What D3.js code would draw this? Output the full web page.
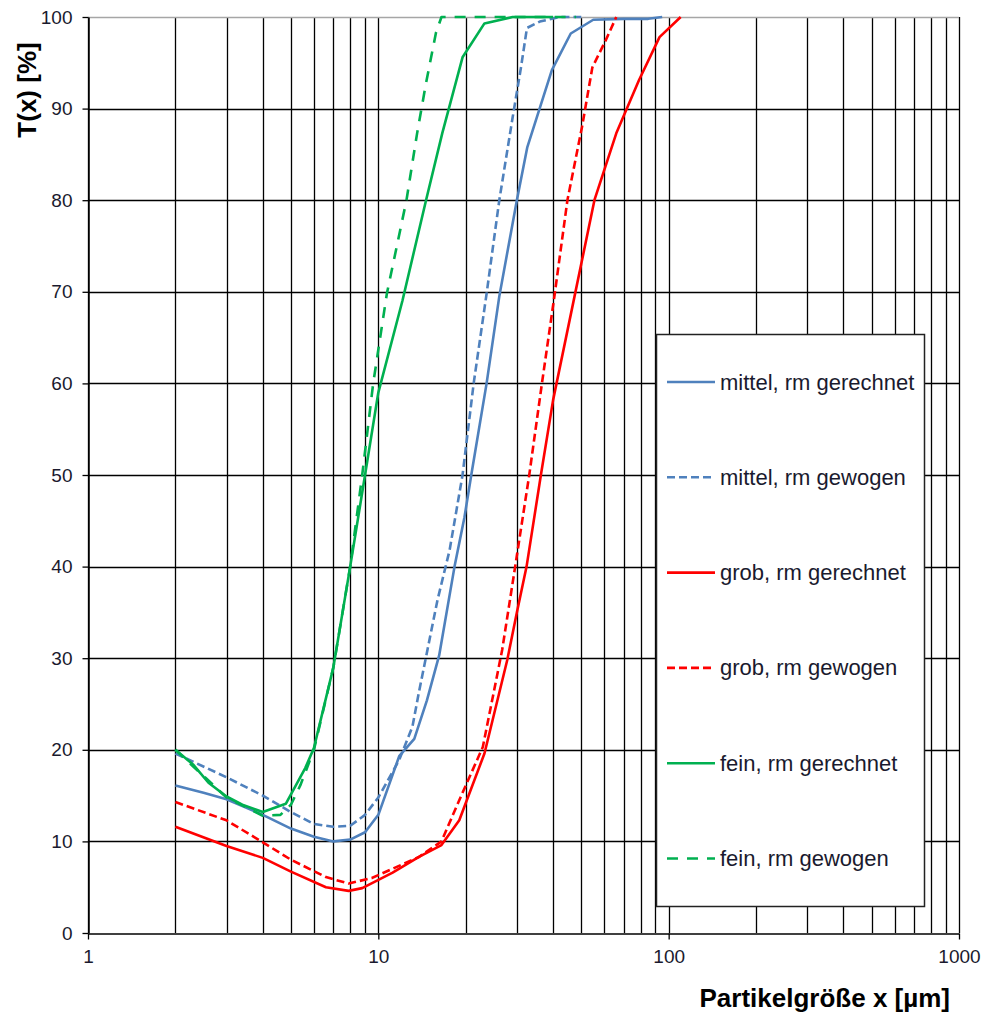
<!DOCTYPE html>
<html>
<head>
<meta charset="utf-8">
<script src="https://cdn.jsdelivr.net/npm/d3@7"></script>
<style>
  body { margin: 0; background: #fff; }
  svg { display: block; font-family: "Liberation Sans", Arial, sans-serif; }
</style>
</head>
<body>
<svg id="chart" width="988" height="1013"></svg>
<script>
// values (x in µm, T in %)
var mittel_gerechnet = [[2,16.1],[2.5,15.3],[3,14.6],[4,12.9],[5,11.4],[6,10.5],[7,10.0],[8,10.2],[9,11.0],[10,12.9],
    [11.8,19.3],[13.3,21.2],[14.7,25.4],[16.2,30.3],[18.3,40],[19.8,45.4],[20.9,50],[23.6,60],[26.1,69.5],[30,80],
    [32.6,85.8],[39.6,94.2],[46,98.2],[55,99.7],[70,99.8],[85,99.8],[95,100]];
var mittel_gewogen = [[2,19.6],[3,17.0],[4,15.0],[5,13.2],[6,11.9],[7,11.6],[8,11.7],[9,12.9],[10,14.8],[11.8,18.9],
    [13.1,22.5],[13.8,26.3],[16,36.4],[17.6,41.8],[19.5,50],[21.3,60],[23.6,69.8],[26.1,80],[29,89],[31,94.5],
    [32.5,98.8],[36,99.5],[42,100],[50,100]];
var grob_gerechnet = [[2,11.6],[3,9.5],[4,8.2],[5,6.7],[6.6,5.0],[7.9,4.6],[8.8,4.9],[11.2,6.6],[13.8,8.3],[16.5,9.6],
    [19,12.3],[23.2,19.6],[27.8,29.8],[30,35],[32.4,40],[36.3,50],[40,58.2],[47.4,69.5],[55.5,80],[66,87.3],
    [79,93.1],[93,97.8],[110,100]];
var grob_gewogen = [[2,14.3],[3,12.3],[4,9.9],[5,8.0],[6.6,6.1],[7.9,5.4],[9.5,6.0],[13.8,8.3],[16.5,10.0],[19,14.5],
    [22.9,20.3],[26.7,30.9],[29.6,40],[33.1,50],[36.6,60],[40.4,69.5],[44.8,80],[50.3,88],[54.6,94.5],[60.8,97.5],[66,100]];
var fein_gerechnet = [[2,20.0],[2.3,18.4],[2.6,16.4],[3,14.9],[3.4,14.0],[4,13.2],[4.8,14.1],[5.6,18.0],[6,20.2],
    [7,29],[8,40],[9,50],[10,59],[12.1,69],[14.6,80],[16.6,87.3],[19.5,95.6],[23.2,99.3],[29,100],[40,100]];
var fein_gewogen = [[2,20.0],[3,14.8],[4,12.8],[4.6,12.9],[5,14.0],[5.4,16.2],[6,20.0],[7,29],[8,40],[8.8,50],[9.6,60],
    [10.7,69.8],[12.5,80],[13.6,87.3],[14.6,92.8],[15.8,98.3],[16.5,100],[30,100],[48,100]];

var series_names = ["mittel, rm gerechnet","mittel, rm gewogen","grob, rm gerechnet","grob, rm gewogen","fein, rm gerechnet","fein, rm gewogen"];
var series_data = [mittel_gerechnet, mittel_gewogen, grob_gerechnet, grob_gewogen, fein_gerechnet, fein_gewogen];
var series_colors = ["#4F81BD","#4F81BD","#FF0000","#FF0000","#00B050","#00B050"];
var series_dash = [null,"8,4",null,"8,4",null,"11,9"];

var x_ticks = [1,10,100,1000];
var y_ticks = [0,10,20,30,40,50,60,70,80,90,100];

var svg = d3.select("#chart"),
    plot_left = 88, plot_right = 959, plot_top = 17, plot_bottom = 933,
    x = d3.scaleLog().domain([1,1000]).range([plot_left,plot_right]),
    y = d3.scaleLinear().domain([0,100]).range([plot_bottom,plot_top])
;

// vertical grid at 1..9 per decade
var minor = [];
[1,10,100].forEach(function(d) { for (var i = 1; i <= 9; i++) minor.push(d*i); });
minor.push(1000);

svg.append("g").selectAll("line")
    .data(minor)
    .enter().append("line")
    .attr("x1", d => Math.round(x(d)) + 0.5).attr("x2", d => Math.round(x(d)) + 0.5)
    .attr("y1", plot_top).attr("y2", plot_bottom)
    .attr("stroke", "#000").attr("stroke-width", 1.3)
;

svg.append("g").selectAll("line")
    .data(y_ticks.filter(d => d > 0))
    .enter().append("line")
    .attr("x1", plot_left).attr("x2", plot_right)
    .attr("y1", d => Math.round(y(d)) + 0.5).attr("y2", d => Math.round(y(d)) + 0.5)
    .attr("stroke", d => d == 100 ? "#a6a6a6" : "#000").attr("stroke-width", 1.3)
;

// axes
var xAxis = svg.append("g")
    .attr("transform", "translate(0," + (plot_bottom + 0.5) + ")")
    .call(d3.axisBottom(x).tickValues(x_ticks).tickFormat(d3.format("d")).tickSizeInner(6).tickSizeOuter(0).tickPadding(10));
var yAxis = svg.append("g")
    .attr("transform", "translate(" + (plot_left + 0.5) + ",0)")
    .call(d3.axisLeft(y).tickValues(y_ticks).tickSizeInner(6).tickSizeOuter(0).tickPadding(10));

[xAxis, yAxis].forEach(function(a) {
    a.attr("font-size", null).attr("font-family", null);
    a.select(".domain").attr("stroke", "#000").attr("stroke-width", 1.5);
    a.selectAll(".tick line").attr("stroke", "#000").attr("stroke-width", 1.3);
    a.selectAll(".tick text").attr("fill", "#1a1a2e").style("font-size", "19px");
});

// curves: straight segments between the read points
var line = d3.line()
    .x(d => x(d[0]))
    .y(d => y(d[1]));

svg.append("defs").append("clipPath").attr("id", "plot")
    .append("rect").attr("x", plot_left).attr("y", plot_top - 2).attr("width", plot_right - plot_left).attr("height", plot_bottom - plot_top + 2);

svg.append("g").attr("clip-path", "url(#plot)")
    .selectAll("path")
    .data(series_data)
    .enter().append("path")
    .attr("d", line)
    .attr("fill", "none")
    .attr("stroke", (d,i) => series_colors[i])
    .attr("stroke-width", 2.6)
    .attr("stroke-linejoin", "round")
    .attr("stroke-dasharray", (d,i) => series_dash[i])
;

// legend
var legend = svg.append("g");
legend.append("rect")
    .attr("x", 656.5).attr("y", 334.5).attr("width", 268).attr("height", 572)
    .attr("fill", "#fff").attr("stroke", "#222").attr("stroke-width", 1.5);

var rows = legend.selectAll(".row")
    .data(series_names)
    .enter().append("g")
    .attr("transform", (d,i) => "translate(0," + (382 + i*95.3) + ")");

rows.append("line")
    .attr("x1", 667).attr("x2", 715)
    .attr("stroke", (d,i) => series_colors[i])
    .attr("stroke-width", 2.6)
    .attr("stroke-dasharray", (d,i) => series_dash[i]);

rows.append("text")
    .attr("x", 720).attr("y", 7.5)
    .attr("fill", "#1a1a2e")
    .style("font-size", "22px")
    .text(d => d);

// axis titles
svg.append("text")
    .attr("transform", "translate(36,90) rotate(-90)")
    .attr("text-anchor", "middle")
    .style("font-size", "26px").style("font-weight", "bold")
    .text("T(x) [%]");

svg.append("text")
    .attr("x", 950).attr("y", 1007)
    .attr("text-anchor", "end")
    .style("font-size", "26px").style("font-weight", "bold")
    .text("Partikelgröße x [µm]");
</script>
</body>
</html>
